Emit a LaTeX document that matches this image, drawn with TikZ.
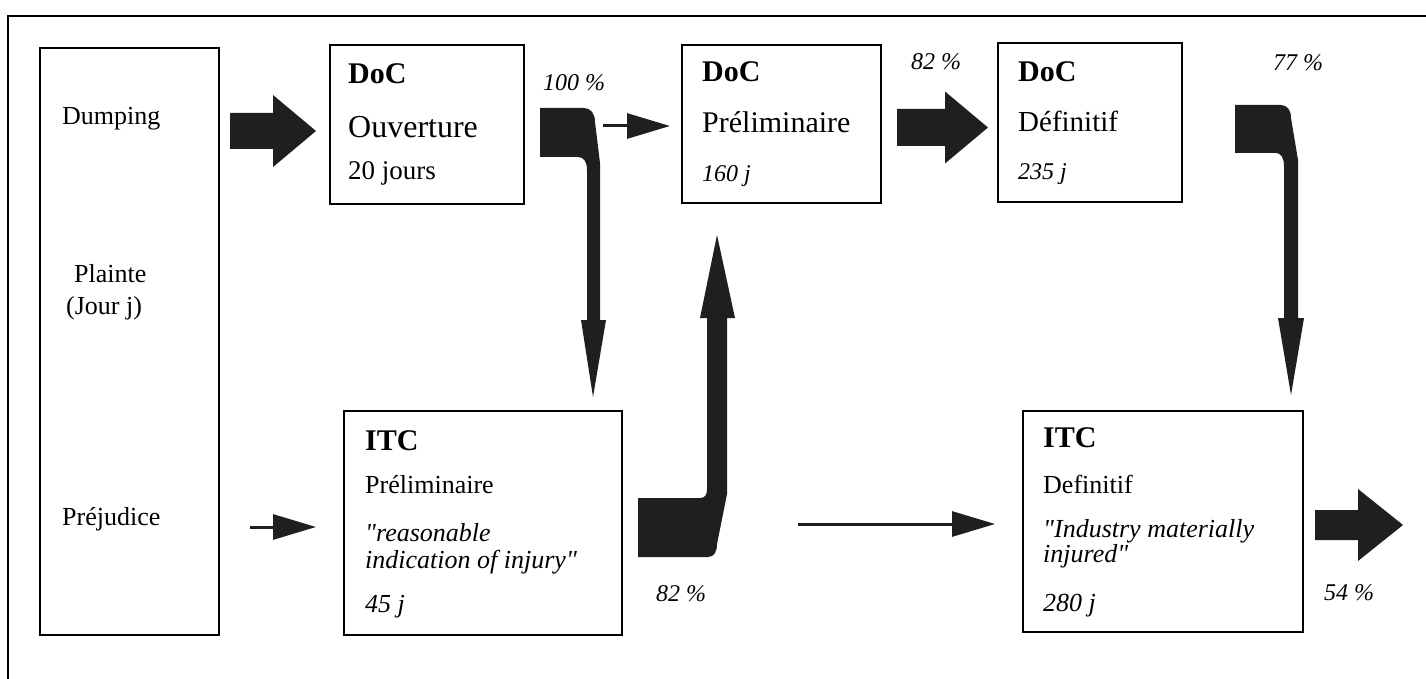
\documentclass[tikz,border=0pt]{standalone}
\usepackage{fontspec}
\setmainfont{Liberation Serif}
\newfontfamily\qfont{Liberation Serif}
\usetikzlibrary{arrows.meta}
\newcommand\fsz[1]{\fontsize{#1}{#1}\selectfont}
\newcommand\qq{{\qfont\itshape "}}
\newcommand\fatarrow[6]{% x0, x1 (head start), x2 (tip), yc, shaft half, head half
  \fill[fatfill] (#1,#4-#5) -- (#2,#4-#5) -- (#2,#4-#6) -- (#3,#4) -- (#2,#4+#6) -- (#2,#4+#5) -- (#1,#4+#5) -- cycle;}
\begin{document}
\begin{tikzpicture}[x=1pt,y=-1pt,
  box/.style={draw, line width=2.4pt, rectangle, inner sep=0pt},
  lbl/.style={anchor=base west, inner sep=0pt},
  fatfill/.style={fill=black!88, draw=none},
  thinarrow/.style={line width=3pt, draw=black!88, -{Triangle[length=43pt,width=25pt]}},
  pct/.style={inner sep=0pt, font=\fsz{24}\itshape}
]
\useasboundingbox (0,0) rectangle (1426,679);
% outer frame
\draw[line width=2pt] (8,679) -- (8,16) -- (1426,16);

% left column
\node[box, minimum width=179pt, minimum height=587pt] (left) at (129.5,341.5) {};
\node[lbl, font=\fsz{26}] (dumping) at (62,125) {Dumping};
\node[lbl, font=\fsz{26}] (plainte) at (74,282) {Plainte};
\node[lbl, font=\fsz{26}] (jour) at (66,314) {(Jour j)};
\node[lbl, font=\fsz{26}] (prejudice) at (62,525) {Préjudice};

% DoC boxes
\node[box, minimum width=194pt, minimum height=159pt] (doc1) at (427,124.5) {};
\node[lbl, font=\fsz{30}\bfseries] (doc1a) at (348,84) {DoC};
\node[lbl, font=\fsz{32}] (doc1b) at (348,138) {Ouverture};
\node[lbl, font=\fsz{27}] (doc1c) at (348,179) {20 jours};

\node[box, minimum width=199pt, minimum height=158pt] (doc2) at (781.5,124) {};
\node[lbl, font=\fsz{30}\bfseries] (doc2a) at (702,82) {DoC};
\node[lbl, font=\fsz{30}] (doc2b) at (702,133) {Préliminaire};
\node[lbl, font=\fsz{24}\itshape] (doc2c) at (702,182) {160 j};

\node[box, minimum width=184pt, minimum height=159pt] (doc3) at (1090,122.5) {};
\node[lbl, font=\fsz{30}\bfseries] (doc3a) at (1018,82) {DoC};
\node[lbl, font=\fsz{29}] (doc3b) at (1018,132) {Définitif};
\node[lbl, font=\fsz{24}\itshape] (doc3c) at (1018,180) {235 j};

% ITC boxes
\node[box, minimum width=278pt, minimum height=224pt] (itc1) at (483,523) {};
\node[lbl, font=\fsz{30}\bfseries] (itc1a) at (365,450) {ITC};
\node[lbl, font=\fsz{26}] (itc1b) at (365,493) {Préliminaire};
\node[lbl, font=\fsz{26}\itshape] (itc1c) at (365,541) {\qq reasonable};
\node[lbl, font=\fsz{26}\itshape] (itc1d) at (365,568) {indication of injury\qq};
\node[lbl, font=\fsz{26}\itshape] (itc1e) at (365,612) {45 j};

\node[box, minimum width=280pt, minimum height=221pt] (itc2) at (1163,521.5) {};
\node[lbl, font=\fsz{30}\bfseries] (itc2a) at (1043,447) {ITC};
\node[lbl, font=\fsz{26}] (itc2b) at (1043,493) {Definitif};
\node[lbl, font=\fsz{26}\itshape] (itc2c) at (1043,537) {\qq Industry materially};
\node[lbl, font=\fsz{26}\itshape] (itc2d) at (1043,562) {injured\qq};
\node[lbl, font=\fsz{26}\itshape] (itc2e) at (1043,611) {280 j};

% percentages
\node[pct] (p100) at (574,83) {100 \%};
\node[pct] (p82a) at (936,62) {82 \%};
\node[pct] (p77) at (1298,63) {77 \%};
\node[pct] (p82b) at (681,594) {82 \%};
\node[pct] (p54) at (1349,593) {54 \%};

% fat straight arrows
\fatarrow{230}{273}{316}{131}{18}{36}
\fatarrow{897}{945}{988}{127.5}{18.5}{36}
\fatarrow{1315}{1358}{1403}{525}{15}{36}

% bent arrows
\fill[fatfill] (540,108) -- (584,108) .. controls (591,108) and (595,114) .. (595,122)
  -- (600,163) -- (600,320) -- (606,320) -- (593,397) -- (581,320) -- (587,320)
  -- (587,170) .. controls (587,162) and (584,157) .. (578,157) -- (540,157) -- cycle;
\fill[fatfill] (1235,105) -- (1281,105) .. controls (1287,105) and (1291,110) .. (1291,118)
  -- (1298,160) -- (1298,318) -- (1304,318) -- (1291,395) -- (1278,318) -- (1284,318)
  -- (1284,166) .. controls (1284,158) and (1281,153) .. (1276,153) -- (1235,153) -- cycle;
\fill[fatfill] (638,557) -- (708,557) .. controls (714,557) and (717,552) .. (717,544)
  -- (727,494) -- (727,318) -- (735,318) -- (717,235) -- (700,318) -- (707,318)
  -- (707,489) .. controls (707,495) and (705,498) .. (700,498) -- (638,498) -- cycle;

% thin arrows
\coordinate (c1s) at (603,126);  \coordinate (c1e) at (670,126);
\coordinate (f1s) at (250,527);  \coordinate (f1e) at (316,527);
\coordinate (h1s) at (798,524);  \coordinate (h1e) at (995,524);
\draw[thinarrow] (c1s) -- (c1e);
\draw[thinarrow] (f1s) -- (f1e);
\draw[thinarrow] (h1s) -- (h1e);
\end{tikzpicture}
\end{document}
